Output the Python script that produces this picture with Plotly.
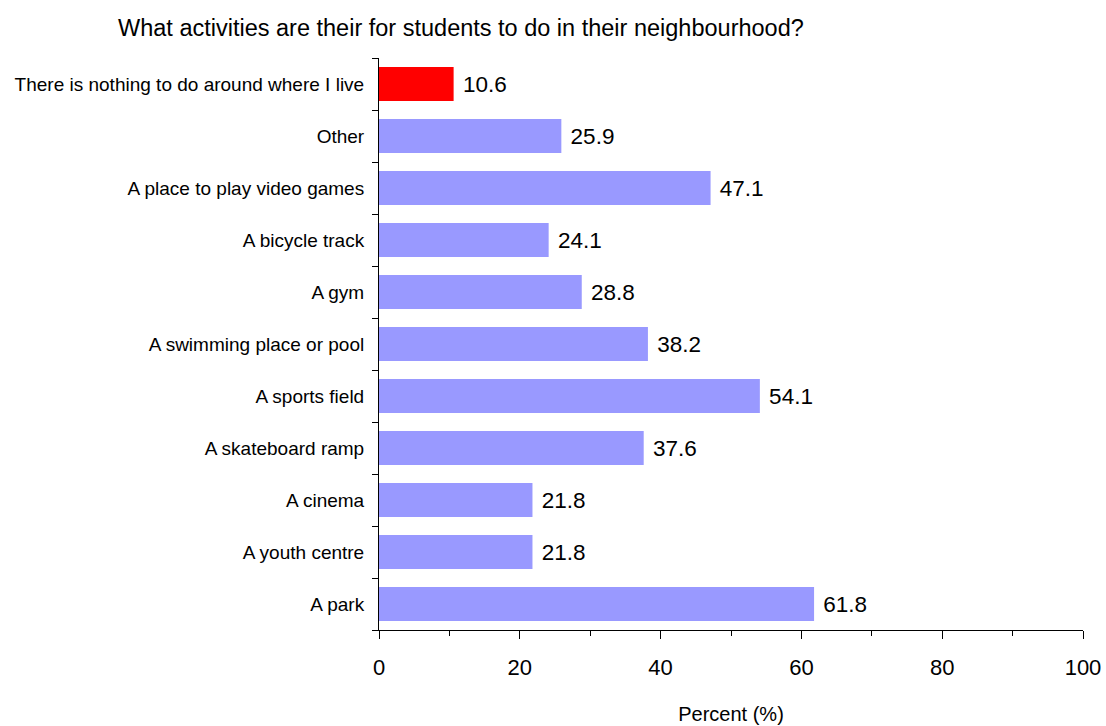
import plotly.graph_objects as go

# categories listed bottom to top
activities = [
    "A park", "A youth centre", "A cinema", "A skateboard ramp",
    "A sports field", "A swimming place or pool", "A gym",
    "A bicycle track", "A place to play video games", "Other",
    "There is nothing to do around where I live",
]
percent = [61.8, 21.8, 21.8, 37.6, 54.1, 38.2, 28.8, 24.1, 47.1, 25.9, 10.6]

colors = ["#9999FF"] * (len(activities) - 1) + ["#FF0000"]

fig = go.Figure()
fig.add_trace(go.Bar(
    x=percent, y=activities, orientation="h",
    marker=dict(color=colors, line=dict(width=0)),
    width=0.65,
    text=[f" {v:.1f}" for v in percent], textposition="outside",
    textfont=dict(size=22.5, color="black"),
    cliponaxis=False,
))

fig.update_layout(
    width=1106, height=726,
    margin=dict(l=379, r=23, t=58, b=96),
    plot_bgcolor="white", paper_bgcolor="white",
    font=dict(family="Liberation Sans, Arial, sans-serif", color="black"),
    showlegend=False,
    annotations=[dict(
        text="What activities are their for students to do in their neighbourhood?",
        xref="paper", yref="paper", x=-0.3735, y=1.0524, xanchor="left", yanchor="middle",
        showarrow=False, font=dict(size=23.5),
    )],
)
fig.update_xaxes(
    range=[0, 100], dtick=20, ticks="outside", ticklen=8, tickcolor="black",
    showline=True, linecolor="black", linewidth=1, showgrid=False, zeroline=False,
    tickfont=dict(size=22), automargin=False, ticklabelstandoff=10,
    minor=dict(dtick=10, ticks="outside", ticklen=5, tickcolor="black"),
    title=dict(text="Percent (%)", font=dict(size=20), standoff=27),
)
fig.update_yaxes(
    ticks="outside", tickson="boundaries", ticklen=6, tickcolor="black",
    showline=True, linecolor="black", linewidth=1, showgrid=False,
    tickfont=dict(size=19), ticklabelstandoff=10, automargin=False,
)

# drop the default page margin so the figure fills the window exactly
fig.write_html("out.html", config={"displayModeBar": False},
               post_script="document.body.style.margin='0';")
